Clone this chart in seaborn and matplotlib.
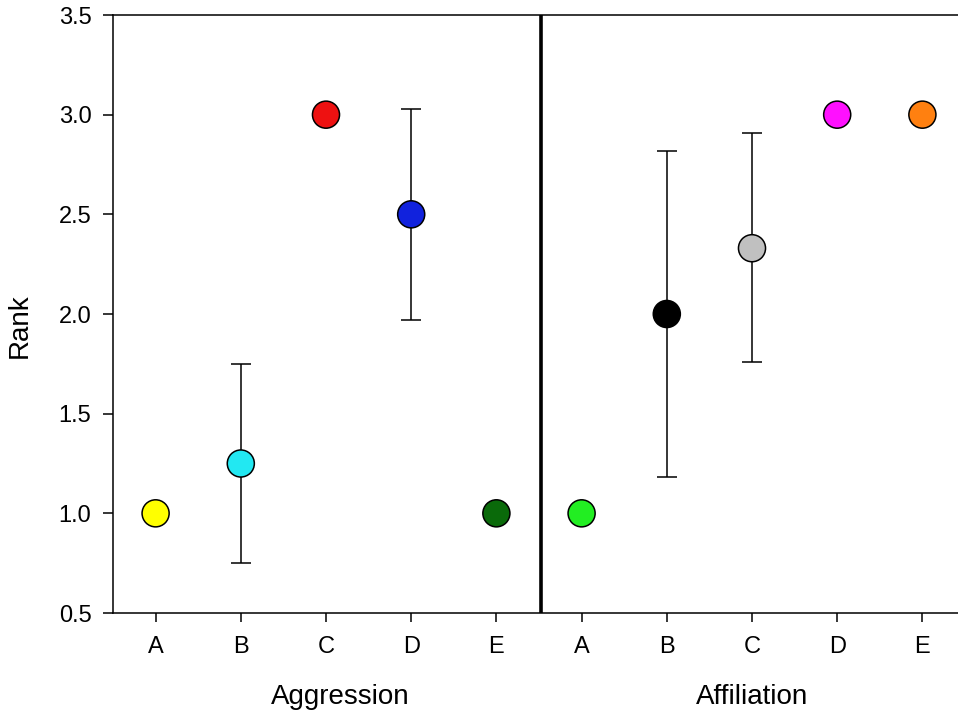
import matplotlib
matplotlib.use("Agg")
import matplotlib.pyplot as plt
import matplotlib.transforms as mtransforms
import seaborn as sns
import pandas as pd
import numpy as np

# ---- data ----
groups = ["Aggression"] * 5 + ["Affiliation"] * 5
categories = ["A", "B", "C", "D", "E", "A", "B", "C", "D", "E"]
rank_mean = [1.0, 1.25, 3.0, 2.5, 1.0, 1.0, 2.0, 2.33, 3.0, 3.0]
rank_err_low = [0.0, 0.50, 0.0, 0.53, 0.0, 0.0, 0.82, 0.57, 0.0, 0.0]
rank_err_high = [0.0, 0.50, 0.0, 0.53, 0.0, 0.0, 0.82, 0.58, 0.0, 0.0]
point_colors = ["#FFFF00", "#22E8F2", "#EE1111", "#1122DD", "#0A6A0A",
                "#22EE22", "#000000", "#C0C0C0", "#FF10FF", "#FF8010"]
group_names = ["Aggression", "Affiliation"]

sns.set_theme(style="white")
plt.rcParams["font.family"] = ["Liberation Sans", "DejaVu Sans"]

pos = np.arange(len(categories))
df = pd.DataFrame({"pos": pos, "rank": rank_mean,
                   "key": [f"{g}-{c}" for g, c in zip(groups, categories)]})

fig = plt.figure(figsize=(9.58, 7.15), dpi=100)
ax = fig.add_axes([113 / 958, 1 - 613 / 715, (965 - 113) / 958, (613 - 15) / 715])

ax.errorbar(pos, rank_mean, yerr=[rank_err_low, rank_err_high], fmt="none",
            ecolor="black", elinewidth=1.1, capsize=7, capthick=1.1, zorder=2)
sns.scatterplot(data=df, x="pos", y="rank", hue="key",
                palette=dict(zip(df["key"], point_colors)), s=380,
                edgecolor="black", linewidth=1.1, legend=False, ax=ax, zorder=3)

ax.axvline(4.52, color="black", lw=2.6, zorder=1)

ax.set_xlim(-0.5, 9.5)
ax.set_ylim(0.5, 3.5)
ax.set_xticks(pos)
ax.set_xticklabels(categories)
ax.set_yticks([0.5, 1.0, 1.5, 2.0, 2.5, 3.0, 3.5])
ax.set_yticklabels(["0.5", "1.0", "1.5", "2.0", "2.5", "3.0", "3.5"])
ax.tick_params(axis="x", direction="out", length=6.5, width=1.1, pad=10,
               labelsize=17, colors="black", bottom=True)
ax.tick_params(axis="y", direction="out", length=7, width=1.1, pad=8.5,
               labelsize=17, colors="black", left=True)
for side in ["left", "bottom", "top"]:
    ax.spines[side].set_visible(True)
    ax.spines[side].set_color("black")
    ax.spines[side].set_linewidth(1.1)
ax.spines["right"].set_visible(False)

ax.set_xlabel("")
ax.set_ylabel("Rank", fontsize=20, color="black")
ax.yaxis.set_label_coords(-0.094, 0.48)

trans = mtransforms.blended_transform_factory(ax.transData, ax.transAxes)
ax.text(2.17, -0.14, group_names[0], transform=trans, ha="center", va="center",
        fontsize=20, color="black")
ax.text(7.0, -0.14, group_names[1], transform=trans, ha="center", va="center",
        fontsize=20, color="black")

fig.savefig("out.png", dpi=100, facecolor="white")
